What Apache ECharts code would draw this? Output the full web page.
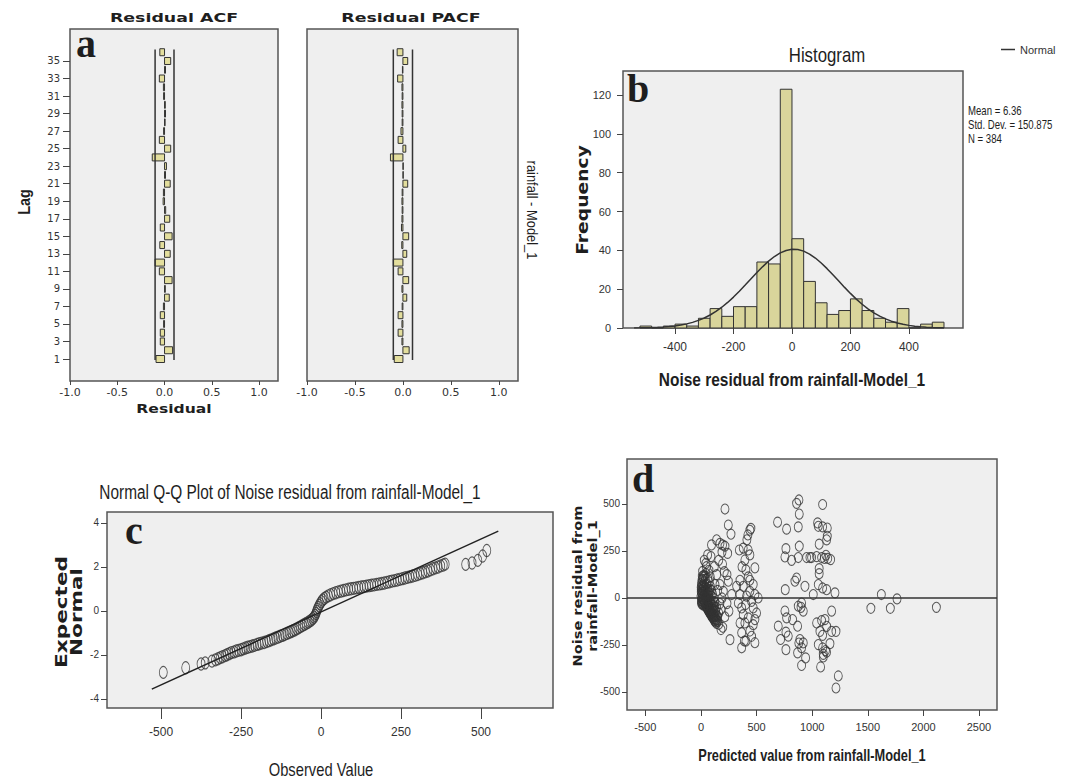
<!DOCTYPE html>
<html>
<head>
<meta charset="utf-8">
<title>Residual diagnostics - rainfall-Model_1</title>
<script src="https://cdn.jsdelivr.net/npm/echarts@6.0.0/dist/echarts.min.js"></script>
<style>
  html, body { margin: 0; padding: 0; background: #fff; }
  #main { width: 1066px; height: 782px; }
</style>
</head>
<body>
<div id="main"></div>
<script>
// ---- a: residual ACF / PACF (lag 1..36)
var lags = [1, 2, 3, 4, 5, 6, 7, 8, 9, 10, 11, 12, 13, 14, 15, 16, 17, 18,
            19, 20, 21, 22, 23, 24, 25, 26, 27, 28, 29, 30, 31, 32, 33, 34, 35, 36];
var acfValues = [-0.09, 0.085, -0.045, -0.045, -0.01, -0.045, -0.012, 0.05, 0.008, 0.08, -0.055, -0.1,
                 0.06, -0.05, 0.08, -0.045, 0.055, 0.012, -0.015, -0.012, 0.06, 0.01, 0.02, -0.13,
                 0.065, -0.055, -0.01, 0.006, 0.01, 0.008, -0.01, -0.012, -0.055, 0.01, 0.065, -0.05];
var pacfValues = [-0.09, 0.065, -0.01, -0.05, -0.01, -0.05, -0.008, 0.04, -0.01, 0.06, -0.05, -0.1,
                  0.04, -0.012, 0.06, -0.015, -0.01, -0.008, -0.01, -0.008, 0.05, 0.004, 0.004, -0.13,
                  0.03, -0.05, -0.02, -0.008, -0.008, -0.01, -0.008, -0.01, -0.055, -0.005, 0.05, -0.06];
var confLimits = [-0.1, 0.1];
var confLagSpan = [0.9, 36.3];
var lagTicks = [1, 3, 5, 7, 9, 11, 13, 15, 17, 19, 21, 23, 25, 27, 29, 31, 33, 35];
var corrTicks = [-1.0, -0.5, 0, 0.5, 1.0];

// ---- b: histogram of noise residual
var histBinStart = [-520, -480, -440, -400, -360, -320, -280, -240, -200, -160, -120, -80, -40,
                    0, 40, 80, 120, 160, 200, 240, 280, 320, 360, 400, 440, 480];
var histBinWidth = 40;
var histCounts = [1, 0, 1, 2, 1, 5, 10, 6, 11, 11, 34, 33, 123,
                  46, 24, 13, 7, 9, 15, 9, 5, 3, 10, 0, 2, 3];
// normal curve every 20 units
var normalX = [-540, -520, -500, -480, -460, -440, -420, -400, -380, -360, -340, -320, -300, -280,
               -260, -240, -220, -200, -180, -160, -140, -120, -100, -80, -60, -40, -20, 0, 20,
               40, 60, 80, 100, 120, 140, 160, 180, 200, 220, 240, 260, 280, 300, 320, 340, 360,
               380, 400, 420, 440, 460, 480, 500, 520];
var normalY = [0.06, 0.09, 0.15, 0.22, 0.34, 0.51, 0.75, 1.08, 1.53, 2.13, 2.91, 3.91, 5.16, 6.7,
               8.54, 10.7, 13.16, 15.93, 18.91, 22.1, 25.34, 28.58, 31.64, 34.46, 36.82, 38.72, 39.95, 40.56, 40.4,
               39.6, 38.08, 36.04, 33.46, 30.57, 27.4, 24.17, 20.92, 17.82, 14.89, 12.24, 9.87, 7.84, 6.1, 4.68, 3.52, 2.6,
               1.89, 1.35, 0.95, 0.65, 0.44, 0.29, 0.19, 0.12];
var histXTicks = [-400, -200, 0, 200, 400];
var histYTicks = [0, 20, 40, 60, 80, 100, 120];
var histStats = ['Mean = 6.36', 'Std. Dev. = 150.875', 'N = 384'];

// ---- c: normal Q-Q plot, [observed value, expected normal]
var qqPoints = [
  [-493, -2.79], [-423, -2.58], [-375, -2.41], [-362, -2.36], [-341, -2.28], [-330, -2.22], [-322, -2.17],
  [-315, -2.12], [-308, -2.08], [-300, -2.03], [-294, -1.99], [-287, -1.94], [-280, -1.89], [-272, -1.86],
  [-265, -1.82], [-258, -1.79], [-250, -1.76], [-243, -1.72], [-236, -1.68], [-229, -1.65], [-222, -1.62],
  [-215, -1.59], [-208, -1.56], [-200, -1.52], [-193, -1.49], [-186, -1.46], [-178, -1.43], [-170, -1.39],
  [-163, -1.35], [-156, -1.31], [-149, -1.27], [-142, -1.23], [-135, -1.19], [-128, -1.15], [-121, -1.11],
  [-114, -1.07], [-107, -1.02], [-100, -0.98], [-94, -0.94], [-88, -0.9], [-82, -0.86], [-76, -0.81],
  [-70, -0.76], [-64, -0.71], [-58, -0.66], [-52, -0.61], [-46, -0.56], [-40, -0.51], [-35, -0.46],
  [-30, -0.41], [-26, -0.35], [-22, -0.28], [-19, -0.2], [-16, -0.11], [-14, -0.02], [-12, 0.07],
  [-9, 0.16], [-6, 0.25], [-3, 0.33], [1, 0.42], [5, 0.5], [10, 0.57], [16, 0.63], [23, 0.69],
  [30, 0.74], [38, 0.79], [46, 0.83], [54, 0.87], [62, 0.9], [70, 0.93], [78, 0.96], [86, 0.99],
  [94, 1.01], [102, 1.03], [110, 1.05], [118, 1.07], [126, 1.09], [134, 1.11], [142, 1.13], [150, 1.15],
  [158, 1.17], [166, 1.19], [174, 1.21], [182, 1.23], [190, 1.25], [198, 1.27], [206, 1.3], [214, 1.33],
  [222, 1.36], [230, 1.38], [238, 1.41], [246, 1.44], [254, 1.47], [262, 1.5], [270, 1.53], [278, 1.56],
  [286, 1.59], [294, 1.62], [302, 1.66], [310, 1.7], [318, 1.74], [326, 1.78], [334, 1.82], [342, 1.87],
  [350, 1.92], [358, 1.96], [366, 2.0], [374, 2.05], [382, 2.09], [388, 2.13], [452, 2.12], [472, 2.18],
  [490, 2.3], [505, 2.5], [518, 2.75]
];
var qqLine = [[-529, -3.55], [554, 3.63]];
var qqXTicks = [-500, -250, 0, 250, 500];
var qqYTicks = [-4, -2, 0, 2, 4];

// ---- d: residual vs predicted, [predicted value, noise residual]
var residualPoints = [
  [5, 80], [8, 60], [10, 40], [12, 20], [6, 0], [4, -15], [15, 95], [20, 70], [22, 50], [25, 30], [28, 10],
  [18, -10], [15, -20], [30, -25], [35, -30], [40, -38], [45, -45], [50, -48], [55, -55], [60, -60],
  [65, -65], [70, -70], [75, -75], [80, -80], [85, -85], [90, -88], [95, -95], [100, -100], [105, -103],
  [110, -108], [115, -112], [120, -118], [125, -122], [130, -128], [140, -135], [35, 60], [40, 40],
  [45, 20], [50, 5], [55, -10], [60, -20], [65, -35], [70, -45], [75, -55], [85, -60], [90, -70],
  [100, -80], [110, -90], [120, -100], [130, -110], [140, -115], [150, -125], [30, 85], [40, 100],
  [50, 75], [55, 50], [65, 30], [70, 10], [80, -5], [90, -30], [100, -40], [110, -60], [120, -75],
  [135, -90], [150, -100], [12, 115], [25, 120], [45, 130], [60, 105], [75, 85], [85, 60], [95, 40],
  [105, 20], [115, 0], [125, -20], [140, -50], [160, -80], [20, -30], [10, -5], [3, 30], [2, 55], [0, 10],
  [8, -25], [15, 141], [45, 184], [30, 200], [48, 166], [60, 229], [72, 147], [84, 112],
  [3, 45], [7, 25], [9, 70], [14, 5], [17, 35], [20, -5], [24, 60], [26, 15], [28, -15], [33, 40], [36, 0],
  [38, -20], [42, 55], [44, -5], [48, 30], [52, -30], [56, 15], [58, -40], [62, 40], [66, -10], [68, -50],
  [72, 25], [76, -30], [78, -65], [82, 45], [86, -20], [88, -75], [92, 10], [96, -55], [98, -85], [102, -20],
  [106, -70], [112, -40], [116, -95], [118, -20], [124, -50], [128, -100], [132, -70], [136, -118], [145, -95],
  [10, 100], [20, 110], [35, 115], [5, -30], [12, -35], [25, -40],
  [90, 220], [141, 309], [95, 282], [194, 282], [216, 275], [189, 243], [240, 237], [120, 166], [194, 180],
  [141, 124], [234, 124], [171, 71], [246, 89], [126, 71], [201, 35], [276, 18], [234, -30], [180, -61],
  [252, -70], [196, -156], [180, -168], [261, -222], [216, 473], [246, 388], [270, 339], [171, 290],
  [160, 200], [210, 140], [150, 40], [190, 0], [170, -30], [215, -100], [160, -140],
  [345, 255], [380, 265], [413, 309], [422, 335], [449, 370], [440, 360], [369, 166], [404, 149], [425, 255],
  [440, 229], [351, 94], [425, 112], [470, 71], [380, 62], [440, 35], [515, 0], [336, -27], [402, -35],
  [470, -53], [380, -89], [425, -106], [485, -115], [366, -185], [440, -176], [390, -229], [485, -238],
  [366, -265], [395, 202], [440, 94], [485, 18], [351, 18], [410, 10], [455, -18], [366, -53], [500, -80],
  [395, -133], [470, -142], [351, -133], [455, -204], [404, -230], [321, 62], [485, 160],
  [689, 403], [770, 366], [860, 503], [881, 521], [884, 446], [875, 378], [884, 275], [764, 262], [755, 218],
  [815, 200], [875, 215], [950, 215], [860, 106], [845, 89], [935, 62], [758, 44], [1010, 18], [905, -27],
  [875, -44], [920, -70], [755, -70], [770, -106], [824, -115], [869, -150], [695, -150], [764, -182],
  [716, -221], [785, -203], [890, -221], [920, -239], [764, -275], [869, -292], [905, -265], [941, -319],
  [905, -359], [980, 215], [900, -50], [880, -240],
  [1094, 497], [1049, 399], [1055, 381], [1094, 378], [1136, 372], [1136, 328], [1130, 309], [1063, 286],
  [995, 215], [1040, 220], [1085, 215], [1124, 227], [1166, 204], [1063, 156], [1063, 129], [1055, 71],
  [1094, 53], [1130, 44], [1205, 27], [1175, -70], [1040, -133], [1085, -120], [1115, -115], [1130, -151],
  [1175, -178], [1214, -178], [1070, -178], [1094, -199], [1055, -248], [1160, -243], [1094, -266],
  [1130, -288], [1100, -314], [1076, -367], [1235, -415], [1214, -479], [1110, 210], [1140, 210],
  [1100, -300], [1120, -280],
  [1528, -55], [1622, 18], [1703, -55], [1763, -5], [2117, -50]
];
var predXTicks = [-500, 0, 500, 1000, 1500, 2000, 2500];
var predYTicks = [-500, -250, 0, 250, 500];

var ARIAL = "'Liberation Sans', Arial, sans-serif";
var WIDE = "'DejaVu Sans', Verdana, sans-serif";
var SERIF = "'Liberation Serif', 'DejaVu Serif', 'Times New Roman', serif";
var INK = '#1e1e1e';

function plotGrid(left, top, width, height) {
  return {left: left, top: top, width: width, height: height, show: true,
          backgroundColor: '#efefef', borderColor: '#555', borderWidth: 1.5};
}

function axis(gi, min, max, ticks, o) {
  return {
    type: 'value', gridIndex: gi, min: min, max: max,
    splitLine: {show: false},
    axisLine: {show: false, onZero: false},
    axisTick: {show: true, customValues: ticks, length: o.tick, lineStyle: {color: '#444', width: 1}},
    axisLabel: {customValues: ticks, margin: o.margin, fontSize: o.size, fontFamily: o.font, color: '#333',
                formatter: o.fmt || function (v) { return String(v); }}
  };
}

function corrBar(params, api) {
  var base = api.coord([0, api.value(1)]);
  var end = api.coord([api.value(0), api.value(1)]);
  return {type: 'rect',
          shape: {x: Math.min(base[0], end[0]), y: base[1] - 3.5, width: Math.abs(end[0] - base[0]), height: 7},
          style: {fill: '#e3de9d', stroke: '#333', lineWidth: 1}};
}

function histBar(params, api) {
  var top = api.coord([api.value(0), api.value(1)]);
  var bottom = api.coord([api.value(0) + histBinWidth, 0]);
  return {type: 'rect',
          shape: {x: top[0], y: top[1], width: bottom[0] - top[0], height: bottom[1] - top[1]},
          style: {fill: '#d9d59b', stroke: '#333', lineWidth: 1}};
}

// text placed on the page; sx squeezes or stretches it along its own direction
function label(x, y, text, font, sx, rot, align) {
  return {type: 'text', x: x, y: y, rotation: rot || 0, scaleX: sx || 1, silent: true,
          style: {text: text, font: font, fill: INK, align: align || 'center', verticalAlign: 'middle',
                  textAlign: align || 'center', textVerticalAlign: 'middle', lineHeight: 15}};
}

function limitLine(name, gi, x) {
  return {name: name, type: 'line', xAxisIndex: gi, yAxisIndex: gi, symbol: 'none', silent: true,
          data: [[x, confLagSpan[0]], [x, confLagSpan[1]]], lineStyle: {color: '#333', width: 1.5}};
}

var fmt1 = function (v) { return v.toFixed(1); };
var corrX = {tick: 4, margin: 6, size: 11, font: WIDE, fmt: fmt1};
var corrY = {tick: 7, margin: 10, size: 10, font: WIDE};

var option = {
  animation: false,
  backgroundColor: '#fff',
  grid: [
    plotGrid(70, 29, 208, 352),
    plotGrid(307, 29, 211, 352),
    plotGrid(623, 71, 340, 257),
    plotGrid(107, 512, 446, 196),
    plotGrid(627, 459, 370, 251)
  ],
  xAxis: [
    axis(0, -1.0, 1.2, corrTicks, corrX),
    axis(1, -1.0, 1.2, corrTicks, corrX),
    axis(2, -578, 585, histXTicks, {tick: 6, margin: 13, size: 12, font: ARIAL}),
    axis(3, -669, 725, qqXTicks, {tick: 11, margin: 18, size: 12, font: ARIAL}),
    axis(4, -665, 2662, predXTicks, {tick: 6, margin: 11, size: 11, font: ARIAL})
  ],
  yAxis: [
    axis(0, -1.51, 38.65, lagTicks, corrY),
    (function () { var a = axis(1, -1.51, 38.65, lagTicks, corrY); a.axisTick.show = false; a.axisLabel.show = false; return a; })(),
    axis(2, 0, 132.4, histYTicks, {tick: 6, margin: 12, size: 11, font: ARIAL}),
    axis(3, -4.41, 4.5, qqYTicks, {tick: 6, margin: 8, size: 10, font: ARIAL}),
    axis(4, -596, 739, predYTicks, {tick: 5, margin: 7, size: 10, font: ARIAL})
  ],
  legend: {
    data: [{name: 'Normal', icon: 'rect'}], left: 996, top: 39, itemWidth: 14, itemHeight: 1.5, itemGap: 0,
    selectedMode: false, textStyle: {fontFamily: ARIAL, fontSize: 11, color: '#333'}
  },
  series: [
    limitLine('ACF lower', 0, confLimits[0]),
    limitLine('ACF upper', 0, confLimits[1]),
    {name: 'ACF', type: 'custom', coordinateSystem: 'cartesian2d', xAxisIndex: 0, yAxisIndex: 0,
     renderItem: corrBar, encode: {x: 0, y: 1},
     data: lags.map(function (l, i) { return [acfValues[i], l]; })},
    limitLine('PACF lower', 1, confLimits[0]),
    limitLine('PACF upper', 1, confLimits[1]),
    {name: 'PACF', type: 'custom', coordinateSystem: 'cartesian2d', xAxisIndex: 1, yAxisIndex: 1,
     renderItem: corrBar, encode: {x: 0, y: 1},
     data: lags.map(function (l, i) { return [pacfValues[i], l]; })},
    {name: 'Frequency', type: 'custom', coordinateSystem: 'cartesian2d', xAxisIndex: 2, yAxisIndex: 2,
     renderItem: histBar, encode: {x: 0, y: 1},
     data: histBinStart.map(function (s, i) { return [s, histCounts[i]]; })},
    {name: 'Normal', type: 'line', xAxisIndex: 2, yAxisIndex: 2, symbol: 'none', smooth: false,
     silent: true, color: '#333', lineStyle: {color: '#333', width: 1.5},
     data: normalX.map(function (x, i) { return [x, normalY[i]]; })},
    {name: 'Q-Q line', type: 'line', xAxisIndex: 3, yAxisIndex: 3, symbol: 'none', silent: true,
     lineStyle: {color: '#222', width: 1.5}, data: qqLine},
    {name: 'Q-Q', type: 'scatter', xAxisIndex: 3, yAxisIndex: 3, symbol: 'circle', symbolSize: [8, 12],
     itemStyle: {color: 'rgba(0,0,0,0)', borderColor: '#333', borderWidth: 1}, data: qqPoints},
    {name: 'Residual', type: 'scatter', xAxisIndex: 4, yAxisIndex: 4, symbol: 'circle', symbolSize: [8, 10],
     itemStyle: {color: 'rgba(0,0,0,0)', borderColor: '#333', borderWidth: 1}, data: residualPoints,
     markLine: {silent: true, symbol: 'none', label: {show: false}, lineStyle: {color: '#333', width: 1.5, type: 'solid'},
                data: [{yAxis: 0}]}}
  ],
  graphic: [
    label(174, 18, 'Residual ACF', 'bold 12px ' + WIDE, 1.45),
    label(411, 18, 'Residual PACF', 'bold 12px ' + WIDE, 1.45),
    label(76, 43, 'a', 'bold 40px ' + SERIF, 1, 0, 'left'),
    label(24, 202, 'Lag', 'bold 17px ' + ARIAL, 0.85, Math.PI / 2),
    label(174, 409, 'Residual', 'bold 12px ' + WIDE, 1.3),
    label(532, 210, 'rainfall - Model_1', '15px ' + ARIAL, 0.86, -Math.PI / 2),
    label(827, 55, 'Histogram', '20px ' + ARIAL, 0.84),
    label(627, 88, 'b', 'bold 40px ' + SERIF, 1, 0, 'left'),
    label(968, 111, histStats[0], '12px ' + ARIAL, 0.8, 0, 'left'),
    label(968, 125, histStats[1], '12px ' + ARIAL, 0.8, 0, 'left'),
    label(968, 139, histStats[2], '12px ' + ARIAL, 0.8, 0, 'left'),
    label(583, 200, 'Frequency', 'bold 15px ' + WIDE, 1.25, Math.PI / 2),
    label(792, 380, 'Noise residual from rainfall-Model_1', 'bold 18px ' + ARIAL, 0.86),
    label(290, 492, 'Normal Q-Q Plot of Noise residual from rainfall-Model_1', '20px ' + ARIAL, 0.77),
    label(125, 530, 'c', 'bold 40px ' + SERIF, 1, 0, 'left'),
    label(69, 612, 'Expected\nNormal', 'bold 16px ' + WIDE, 1.35, Math.PI / 2),
    label(321, 769, 'Observed Value', '18px ' + ARIAL, 0.82),
    label(632, 478, 'd', 'bold 40px ' + SERIF, 1, 0, 'left'),
    label(585, 586, 'Noise residual from\nrainfall-Model_1', 'bold 13px ' + WIDE, 1.12, Math.PI / 2),
    label(812, 755, 'Predicted value from rainfall-Model_1', 'bold 16px ' + ARIAL, 0.8)
  ]
};

var chart = echarts.init(document.getElementById('main'), null, {renderer: 'svg'});
chart.setOption(option);
</script>
</body>
</html>
